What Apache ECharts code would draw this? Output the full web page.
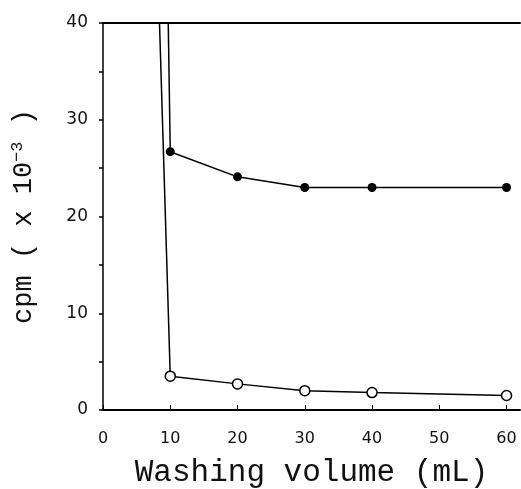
<!DOCTYPE html>
<html>
<head>
<meta charset="utf-8">
<script src="https://cdn.jsdelivr.net/npm/echarts@6/dist/echarts.min.js"></script>
<style>html,body{margin:0;padding:0;background:#fff}#c{width:521px;height:489px}</style>
</head>
<body>
<div id="c"></div>
<script>
// Washing volume (mL) at which samples were counted
var washVolume = [10, 20, 30, 40, 60];
// filled circles (cpm x 10^-3)
var filledValues = [26.7, 24.1, 23.0, 23.0, 23.0];
// open circles (cpm x 10^-3)
var openValues = [3.5, 2.7, 2.0, 1.8, 1.5];
// off-scale starting points where the curves leave the top of the plot
var filledStart = [9.7, 40];
var openStart = [8.4, 40];
// tick labels
var xTicks = [0, 10, 20, 30, 40, 50, 60];
var yTicks = [0, 10, 20, 30, 40];
var yMinorTicks = [0, 5, 10, 15, 20, 25, 30, 35, 40];

function buildSeries(start, xs, ys) {
  var d = [{ value: start, symbol: 'none' }];
  for (var i = 0; i < xs.length; i++) d.push([xs[i], ys[i]]);
  return d;
}

var chart = echarts.init(document.getElementById('c'), null, { renderer: 'canvas' });
var serif = '"Liberation Mono", "DejaVu Sans Mono", monospace';
var sans = '"DejaVu Sans", "Liberation Sans", sans-serif';

chart.setOption({
  backgroundColor: '#fff',
  animation: false,
  grid: { left: 103, right: 1, top: 23, bottom: 79, containLabel: false, outerBoundsMode: 'none' },
  xAxis: [{
    type: 'value', min: 0, max: 62,
    name: 'Washing volume (mL)', nameLocation: 'middle', nameGap: 47,
    nameTextStyle: { fontFamily: serif, fontSize: 31, color: '#111' },
    axisLine: { show: true, onZero: false, lineStyle: { color: '#000', width: 2 } },
    axisTick: { show: true, inside: true, length: 5, customValues: xTicks, lineStyle: { color: '#000', width: 1 } },
    axisLabel: { customValues: xTicks, margin: 21, fontFamily: sans, fontSize: 16, color: '#111' },
    splitLine: { show: false }
  }, {
    type: 'value', min: 0, max: 62, position: 'top',
    axisLine: { show: true, onZero: false, lineStyle: { color: '#000', width: 2 } },
    axisTick: { show: false }, axisLabel: { show: false }, splitLine: { show: false }
  }],
  yAxis: {
    type: 'value', min: 0, max: 40, interval: 10,
    name: '{a|cpm ( x 10}{s|−3}{a| )}', nameLocation: 'middle', nameGap: 65, nameRotate: 90,
    nameTextStyle: {
      rich: {
        a: { fontFamily: serif, fontSize: 27, color: '#111' },
        s: { fontFamily: serif, fontSize: 17, color: '#111', verticalAlign: 'top', padding: [0, 0, 12, 0] }
      }
    },
    axisLine: { show: true, onZero: false, lineStyle: { color: '#000', width: 1.5 } },
    axisTick: { show: true, inside: false, length: 4, customValues: yMinorTicks, lineStyle: { color: '#000', width: 1.5 } },
    axisLabel: { customValues: yTicks, margin: 15, fontFamily: sans, fontSize: 17, color: '#111' },
    splitLine: { show: false }
  },
  series: [{
    name: 'filled', type: 'line', xAxisIndex: 0,
    data: buildSeries(filledStart, washVolume, filledValues),
    symbol: 'circle', symbolSize: 9,
    itemStyle: { color: '#000' },
    lineStyle: { color: '#000', width: 1.5 },
    clip: true
  }, {
    name: 'open', type: 'line', xAxisIndex: 0,
    data: buildSeries(openStart, washVolume, openValues),
    symbol: 'circle', symbolSize: 10,
    itemStyle: { color: '#fff', borderColor: '#000', borderWidth: 1.5 },
    lineStyle: { color: '#000', width: 1.5 },
    clip: true
  }]
});
</script>
</body>
</html>
